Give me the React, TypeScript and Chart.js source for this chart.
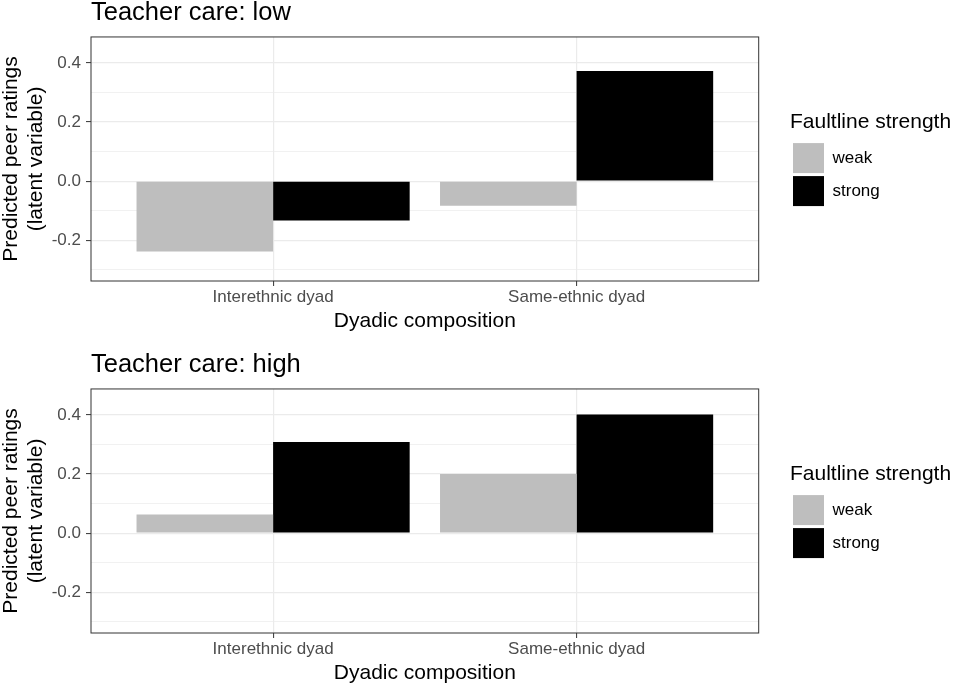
import React, { useEffect, useRef } from "react";
import { Chart, registerables } from "chart.js";

Chart.register(...registerables);

// ---- data ----
const categories: string[] = ["Interethnic dyad", "Same-ethnic dyad"];
const seriesNames: string[] = ["weak", "strong"];
const lowWeak: number[] = [-0.238, -0.083];
const lowStrong: number[] = [-0.133, 0.372];
const highWeak: number[] = [0.063, 0.2];
const highStrong: number[] = [0.308, 0.401];
const yMajorTicks: number[] = [-0.2, 0, 0.2, 0.4];
const yMinorTicks: number[] = [-0.3, -0.1, 0.1, 0.3];
const yLimits: number[] = [-0.3375, 0.4875];
const xLimits: number[] = [-0.6, 1.6];
const panelTitles: string[] = ["Teacher care: low", "Teacher care: high"];

const FONT = "'Liberation Sans', Arial, Helvetica, sans-serif";
const LEGEND_WIDTH = 167;

const panelBorder = {
  id: "panelBorder",
  beforeLayout(chart: any) {
    const lg = chart.legend;
    if (lg && !lg.__fixedWidth) {
      const orig = lg.fit.bind(lg);
      lg.fit = () => {
        orig();
        lg.width = LEGEND_WIDTH;
      };
      lg.__fixedWidth = true;
    }
  },
  afterDatasetsDraw(chart: any) {
    const { ctx, chartArea: a } = chart;
    ctx.save();
    ctx.strokeStyle = "#333333";
    ctx.lineWidth = 1;
    ctx.strokeRect(a.left, a.top, a.right - a.left, a.bottom - a.top);
    ctx.restore();
  },
};

const isMajor = (v: number) => yMajorTicks.some((m) => Math.abs(m - v) < 1e-9);

function Panel({ title, weak, strong }: { title: string; weak: number[]; strong: number[] }) {
  const ref = useRef<HTMLCanvasElement | null>(null);
  useEffect(() => {
    if (!ref.current) return;
    Chart.defaults.font.family = FONT;
    const allY = [...yMajorTicks, ...yMinorTicks].sort((a, b) => a - b);
    const chart = new Chart(ref.current, {
      type: "bar",
      data: {
        datasets: [
          {
            label: seriesNames[0],
            data: weak.map((v, i) => ({ x: i, y: v })),
            backgroundColor: "#BEBEBE",
            borderWidth: 0,
            categoryPercentage: 0.9,
            barPercentage: 1,
            xAxisID: "x",
            yAxisID: "y",
          },
          {
            label: seriesNames[1],
            data: strong.map((v, i) => ({ x: i, y: v })),
            backgroundColor: "#000000",
            borderWidth: 0,
            categoryPercentage: 0.9,
            barPercentage: 1,
            xAxisID: "x",
            yAxisID: "y",
          },
        ],
      } as any,
      options: {
        responsive: false,
        animation: false,
        events: [],
        layout: { padding: { left: 0, right: 0, top: 0, bottom: 0 } },
        scales: {
          x: {
            type: "linear",
            position: "bottom",
            offset: false,
            min: xLimits[0],
            max: xLimits[1],
            afterBuildTicks: (s: any) => {
              s.ticks = categories.map((_, i) => ({ value: i }));
            },
            afterFit: (s: any) => {
              s.height = 54;
            },
            grid: {
              color: "#EBEBEB",
              lineWidth: 1.2,
              drawTicks: true,
              tickLength: 5,
              tickColor: "#333333",
              tickWidth: 1,
              offset: false,
            },
            border: { display: false },
            ticks: {
              callback: (v: any) => categories[v] ?? "",
              color: "#4D4D4D",
              font: { size: 17, family: FONT },
              padding: 1,
              maxRotation: 0,
              autoSkip: false,
            },
            title: {
              display: true,
              text: "Dyadic composition",
              color: "#000000",
              font: { size: 21, family: FONT, weight: "normal", lineHeight: 1.2 },
              padding: { top: 0, bottom: 1.4 },
            },
          },
          y: {
            type: "linear",
            position: "left",
            min: yLimits[0],
            max: yLimits[1],
            afterBuildTicks: (s: any) => {
              s.ticks = allY.map((v) => ({ value: v }));
            },
            afterFit: (s: any) => {
              s.width = 91;
            },
            grid: {
              color: "#EBEBEB",
              lineWidth: (c: any) => (c.tick && isMajor(c.tick.value) ? 1.2 : 0.7),
              drawTicks: true,
              tickLength: 5,
              tickColor: (c: any) => (c.tick && isMajor(c.tick.value) ? "#333333" : "rgba(0,0,0,0)"),
              tickWidth: 1,
            },
            border: { display: false },
            ticks: {
              callback: (v: any) => (isMajor(Number(v)) ? Number(v).toFixed(1) : ""),
              color: "#4D4D4D",
              font: { size: 17, family: FONT },
              padding: 5,
              autoSkip: false,
            },
            title: {
              display: true,
              text: ["Predicted peer ratings", "(latent variable)"],
              color: "#000000",
              font: { size: 21, family: FONT, weight: "normal", lineHeight: 1.2 },
              padding: { top: -1.5, bottom: 0 },
            },
          },
          yR: {
            type: "linear",
            position: "right",
            display: true,
            grid: { display: false, drawTicks: false },
            border: { display: false },
            ticks: { display: false },
            afterFit: (s: any) => {
              s.width = 31.3;
            },
          },
        } as any,
        plugins: {
          tooltip: { enabled: false },
          title: {
            display: true,
            text: title,
            align: "start",
            color: "#000000",
            fullSize: false,
            font: { size: 25.5, family: FONT, weight: "normal", lineHeight: 1.01 },
            padding: { top: 0, bottom: 11.2 },
          },
          legend: {
            display: true,
            position: "right",
            align: "center",
            fullSize: false,
            title: {
              display: true,
              text: "Faultline strength",
              color: "#000000",
              position: "start",
              font: { size: 21, family: FONT, weight: "normal", lineHeight: 1.2 },
              padding: 3,
            },
            labels: {
              boxWidth: 31,
              boxHeight: 30,
              padding: 3,
              color: "#000000",
              font: { size: 17, family: FONT },
            },
          },
        } as any,
      },
      plugins: [panelBorder],
    });
    return () => chart.destroy();
  }, [title, weak, strong]);
  return <canvas ref={ref} width={957} height={335} style={{ display: "block", width: 957, height: 335 }} />;
}

export default function App() {
  useEffect(() => {
    document.body.style.margin = "0";
  }, []);
  return (
    <div style={{ position: "absolute", left: 0, top: 0, width: 957, height: 687, background: "#ffffff", overflow: "hidden" }}>
      <div style={{ position: "absolute", left: 0, top: 0 }}>
        <Panel title={panelTitles[0]} weak={lowWeak} strong={lowStrong} />
      </div>
      <div style={{ position: "absolute", left: 0, top: 352 }}>
        <Panel title={panelTitles[1]} weak={highWeak} strong={highStrong} />
      </div>
    </div>
  );
}
